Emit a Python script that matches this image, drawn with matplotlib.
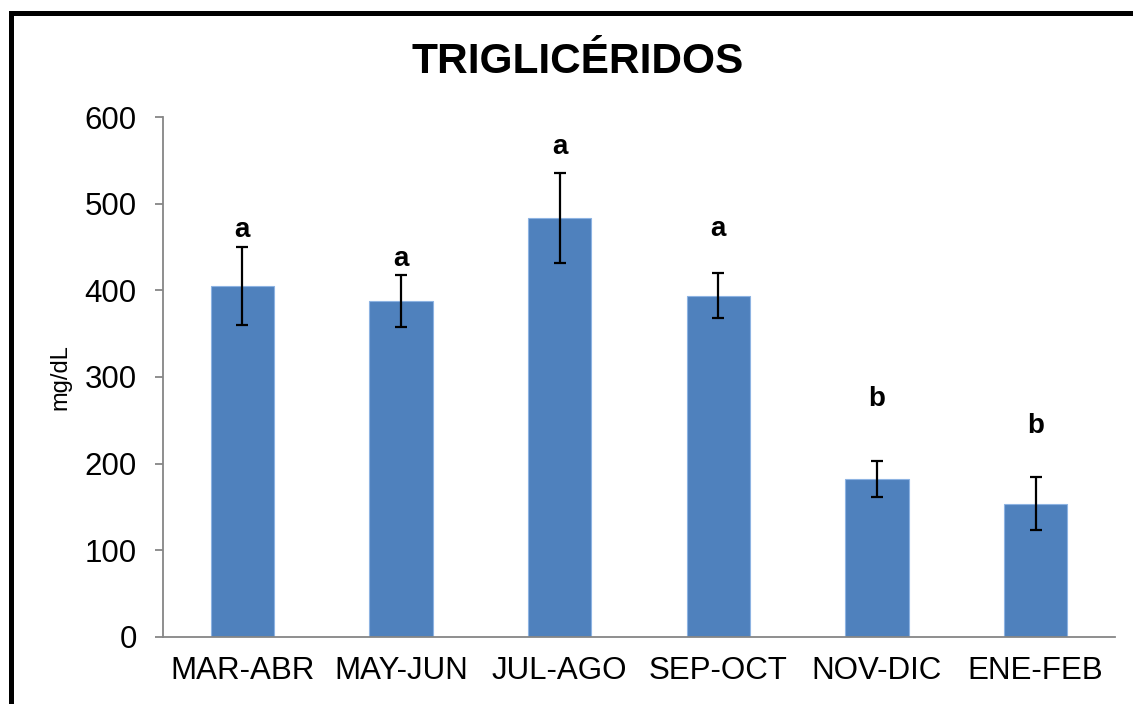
import numpy as np
import matplotlib
matplotlib.use("Agg")
import matplotlib.pyplot as plt
from matplotlib.patches import Rectangle

# data
periodos = ["MAR-ABR", "MAY-JUN", "JUL-AGO", "SEP-OCT", "NOV-DIC", "ENE-FEB"]
trigliceridos = [405, 388, 483, 394, 182, 154]  # mg/dL
error = [45, 30, 52, 26, 21, 31]
letras = ["a", "a", "a", "a", "b", "b"]
altura_letras = [461, 428, 557, 463, 266, 235]  # where each letter sits (mg/dL)

plt.rcParams['font.family'] = ['Liberation Sans', 'DejaVu Sans']

fig = plt.figure(figsize=(11.33, 7.04), dpi=100)
ax = fig.add_axes([0.1439, 0.0952, 0.8402, 0.7386])

x = np.arange(len(periodos))
ax.bar(x, trigliceridos, width=0.4, color='#4F81BD', edgecolor='#8DB3E2', linewidth=0.8, zorder=2)
ax.errorbar(x, trigliceridos, yerr=error, fmt='none', ecolor='black',
            elinewidth=1.6, capsize=4.5, capthick=1.6, zorder=3)

for xi, letra, h in zip(x, letras, altura_letras):
    ax.text(xi, h, letra, ha='center', va='baseline', fontsize=20, fontweight='bold')

ax.set_xlim(-0.5, len(periodos) - 0.5)
ax.set_ylim(0, 600)
ax.set_yticks([0, 100, 200, 300, 400, 500, 600])
ax.set_xticks(x)
ax.set_xticklabels(periodos)

for s in ['top', 'right']:
    ax.spines[s].set_visible(False)
for s in ['left', 'bottom']:
    ax.spines[s].set_color('#868686')
    ax.spines[s].set_linewidth(1.3)

ax.tick_params(axis='y', direction='out', length=6, width=1.3, color='#868686',
               labelsize=22.5, pad=13)
ax.tick_params(axis='x', length=0, labelsize=22.5, pad=14)
ax.set_ylabel('mg/dL', fontsize=17, labelpad=9)

fig.text(578 / 1133, 1 - 73 / 704, 'TRIGLICÉRIDOS', ha='center', va='baseline',
         fontsize=30.5, fontweight='bold')

# black frame around the chart (right and bottom edges are cut off in the original)
fig.patches.append(Rectangle((11 / 1133, -0.1), 1.2, 1.1 - 12.5 / 704,
                             transform=fig.transFigure, fill=False,
                             edgecolor='black', linewidth=3.6, clip_on=False))

fig.savefig('out.png', dpi=100)
